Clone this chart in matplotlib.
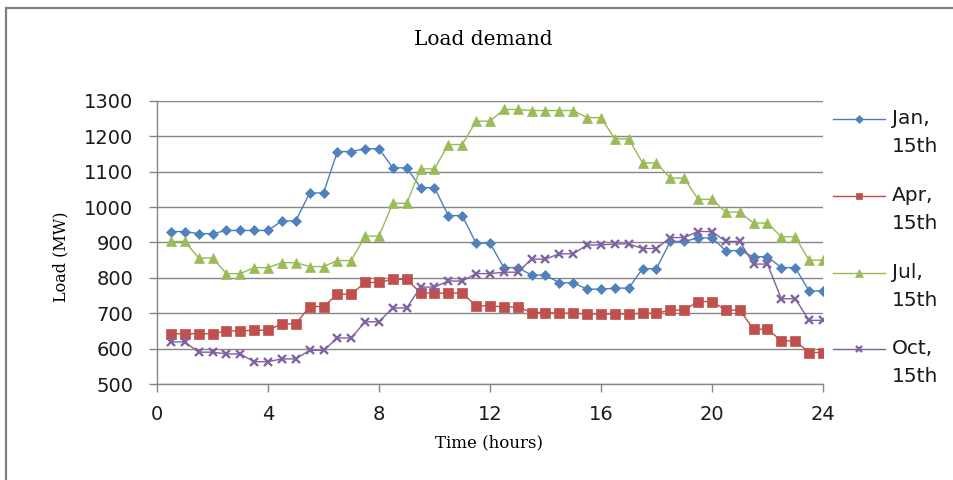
import matplotlib
matplotlib.use("Agg")
import matplotlib.pyplot as plt
from matplotlib.patches import Rectangle
from matplotlib.legend_handler import HandlerLine2D
import numpy as np

# half-hourly load (MW)
hours = [0.5, 1, 1.5, 2, 2.5, 3, 3.5, 4, 4.5, 5, 5.5, 6, 6.5, 7, 7.5, 8,
         8.5, 9, 9.5, 10, 10.5, 11, 11.5, 12, 12.5, 13, 13.5, 14, 14.5, 15, 15.5, 16,
         16.5, 17, 17.5, 18, 18.5, 19, 19.5, 20, 20.5, 21, 21.5, 22, 22.5, 23, 23.5, 24]

jan = [931, 931, 925, 925, 934, 934, 934, 934, 961, 961, 1040, 1040, 1157, 1157, 1165, 1165,
       1111, 1111, 1055, 1055, 976, 976, 898, 898, 829, 829, 808, 808, 786, 786, 768, 768,
       771, 771, 826, 826, 903, 903, 913, 913, 877, 877, 860, 860, 829, 829, 763, 763]
apr = [642, 642, 642, 642, 650, 650, 652, 652, 670, 670, 719, 719, 754, 754, 787, 787,
       796, 796, 757, 757, 757, 757, 721, 721, 718, 718, 702, 702, 700, 700, 698, 698,
       698, 698, 700, 700, 709, 709, 733, 733, 709, 709, 655, 655, 622, 622, 589, 589]
jul = [903, 903, 856, 856, 812, 812, 829, 829, 843, 843, 832, 832, 849, 849, 918, 918,
       1011, 1011, 1108, 1108, 1177, 1177, 1243, 1243, 1276, 1276, 1273, 1273, 1273, 1273, 1253, 1253,
       1193, 1193, 1125, 1125, 1082, 1082, 1022, 1022, 986, 986, 955, 955, 916, 916, 850, 850]
oct_ = [619, 619, 590, 590, 585, 585, 563, 563, 571, 571, 595, 595, 630, 630, 676, 676,
        715, 715, 774, 774, 791, 791, 812, 812, 816, 816, 853, 853, 868, 868, 893, 893,
        896, 896, 883, 883, 914, 914, 931, 931, 903, 903, 839, 839, 741, 741, 680, 680]

labels = ["Jan,\n15th", "Apr,\n15th", "Jul,\n15th", "Oct,\n15th"]
xticks = [0, 4, 8, 12, 16, 20, 24]
yticks = [500, 600, 700, 800, 900, 1000, 1100, 1200, 1300]

GRID = "#868686"
LSP = 1.6  # legend line spacing

fig = plt.figure(figsize=(9.54, 4.8), dpi=100)
ax = fig.add_axes([0.1646, 0.2, 0.698, 0.5896])

series = [
    (jan, "#4A7EBB", "#4F81BD", "D", 5.4),
    (apr, "#BE4B48", "#C0504D", "s", 7.0),
    (jul, "#98B954", "#9BBB59", "^", 7.4),
    (oct_, "#7D60A0", "#8064A2", "x", 6.0),
]
lines = []
for (vals, lc, mc, mk, ms), lab in zip(series, labels):
    ln, = ax.plot(hours, vals, color=lc, lw=1.0, marker=mk, ms=ms,
                  mfc=mc, mec=mc, mew=1.7 if mk == "x" else 0.5, label=lab)
    lines.append(ln)

ax.set_xlim(0, 24)
ax.set_ylim(500, 1300)
ax.set_xticks(xticks)
ax.set_yticks(yticks)
ax.yaxis.grid(True, color=GRID, lw=1.0)
ax.set_axisbelow(True)
for s in ["top", "right"]:
    ax.spines[s].set_visible(False)
for s in ["left", "bottom"]:
    ax.spines[s].set_color(GRID)
    ax.spines[s].set_linewidth(1.0)
ax.tick_params(axis="both", direction="out", length=6, width=1.0, color=GRID,
               labelsize=14, labelcolor="#1a1a1a")
ax.tick_params(axis="x", pad=9)
ax.tick_params(axis="y", pad=11)

fig.text(0.507, 0.918, "Load demand", ha="center", va="center",
         family="DejaVu Serif", fontsize=14.5)
fig.text(0.513, 0.077, "Time (hours)", ha="center", va="center",
         family="DejaVu Serif", fontsize=12)
fig.text(0.064, 0.465, "Load (MW)", ha="center", va="center", rotation=90,
         family="DejaVu Serif", fontsize=11.5)


class FirstLineHandler(HandlerLine2D):
    # put the legend sample next to the first line of a two-line label
    def create_artists(self, legend, orig_handle, xdescent, ydescent,
                       width, height, fontsize, trans):
        arts = super().create_artists(legend, orig_handle, xdescent, ydescent,
                                      width, height, fontsize, trans)
        for a in arts:
            a.set_ydata(np.asarray(a.get_ydata()) + 0.5 * LSP * 0.867 * fontsize)
        return arts


leg = fig.legend(handles=lines, labels=labels, loc="upper left",
                 bbox_to_anchor=(0.873, 0.773), frameon=False, fontsize=14.5,
                 handlelength=2.6, handletextpad=0.35, labelspacing=1.48,
                 borderpad=0, borderaxespad=0, markerscale=0.7,
                 handler_map={l: FirstLineHandler(numpoints=1) for l in lines})
for t in leg.get_texts():
    t.set_linespacing(LSP)
    t.set_color("#1a1a1a")

# outer chart border (only left and top edges show in the crop)
fig.add_artist(Rectangle((6.5 / 954, -0.1), 1.2, 1.1 + (480 - 8) / 480 - 1.0,
                         transform=fig.transFigure, fill=False,
                         edgecolor="#7f7f7f", lw=1.6, clip_on=False))

fig.savefig("out.png", dpi=100)
